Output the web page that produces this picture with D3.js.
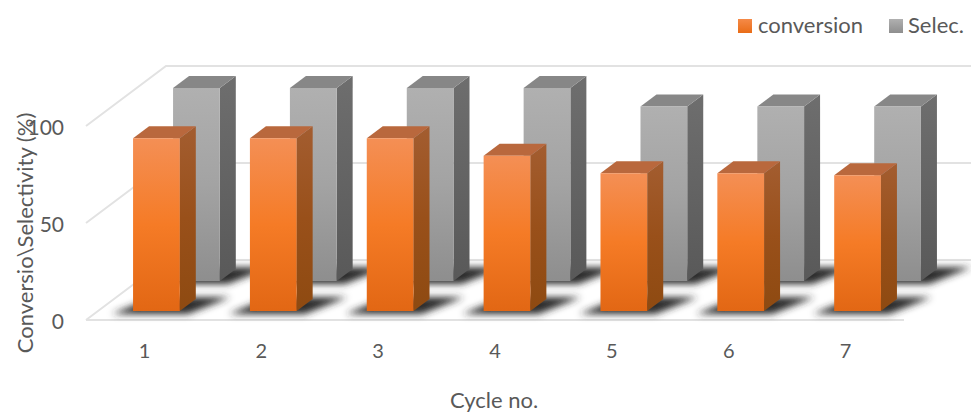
<!DOCTYPE html>
<html>
<head>
<meta charset="utf-8">
<script src="https://cdn.jsdelivr.net/npm/d3@7/dist/d3.min.js"></script>
<style>
html,body{margin:0;padding:0;background:#fff;}
svg{display:block;}
text{font-family:Lato,"Open Sans",sans-serif;fill:#595959;}
</style>
</head>
<body>
<svg id="chart" width="971" height="412"></svg>
<script>
const cycles = ["1","2","3","4","5","6","7"];
const conversion = [89, 89, 89, 80, 71, 71, 70];
const selectivity = [99.5, 99.5, 99.5, 99.5, 90, 90, 90];
const yTicks = [0, 50, 100];

const svg = d3.select("#chart");
const defs = svg.append("defs");

// Oblique projection: depth 0 is the front of the floor, depth 1 the back wall.
const depthDx = d3.scaleLinear().domain([0, 1]).range([0, 80]);
const depthDy = d3.scaleLinear().domain([0, 1]).range([0, -60]);
const x = d3.scaleBand().domain(cycles).range([86, 904]).paddingInner(0.6).paddingOuter(0.3);
const y = d3.scaleLinear().domain([0, 100]).range([320, 126]);
const barDepth = 0.2;

function pt(px, value, depth) {
  return [px + depthDx(depth), y(value) + depthDy(depth)];
}
const poly = pts => pts.map(p => p.join(",")).join(" ");

function gradient(id, stops) {
  const g = defs.append("linearGradient").attr("id", id)
    .attr("x1", 0).attr("y1", 0).attr("x2", 0).attr("y2", 1);
  stops.forEach(([o, c]) => g.append("stop").attr("offset", o).attr("stop-color", c));
}
gradient("orangeFront", [[0, "#f48f55"], [0.5, "#f57b26"], [1, "#e26714"]]);
gradient("orangeSide", [[0, "#a35d30"], [0.5, "#99501a"], [1, "#8e4a11"]]);
gradient("greyFront", [[0, "#b0b0b0"], [0.5, "#a3a3a3"], [1, "#8e8e8e"]]);
gradient("greySide", [[0, "#6e6e6e"], [1, "#595959"]]);
gradient("orangeKey", [[0, "#f58a48"], [1, "#e96c17"]]);
gradient("greyKey", [[0, "#b0b0b0"], [1, "#8e8e8e"]]);

defs.append("filter").attr("id", "soft")
  .attr("x", "-30%").attr("y", "-80%").attr("width", "160%").attr("height", "260%")
  .append("feGaussianBlur").attr("stdDeviation", 3.6);

// Walls and floor
const walls = svg.append("g").attr("fill", "none").attr("stroke", "#e2e2e2").attr("stroke-width", 2);
yTicks.forEach(t => {
  walls.append("polyline").attr("points", poly([pt(86, t, 0), pt(86, t, 1), pt(904, t, 1)]));
});
walls.append("line").attr("x1", 86).attr("y1", y(0)).attr("x2", 904).attr("y2", y(0));

function series(values, depth, frontFill, sideFill, topFill) {
  const shadows = svg.append("g").attr("filter", "url(#soft)");
  const bars = svg.append("g");
  values.forEach((v, i) => {
    const left = x(cycles[i]);
    const right = left + x.bandwidth();
    // Floor shadow spreading from the bar's footprint
    shadows.append("polygon")
      .attr("fill", "#2b2b2b")
      .attr("points", poly([
        pt(left - 17, 0, depth - 0.05),
        pt(right + 12, 0, depth - 0.05),
        pt(right + 32, 0, depth + barDepth + 0.03),
        pt(left + 2, 0, depth + barDepth + 0.03)
      ]));
    const bar = bars.append("g");
    bar.append("polygon").attr("fill", `url(#${sideFill})`)
      .attr("points", poly([pt(right, 0, depth), pt(right, v, depth),
        pt(right, v, depth + barDepth), pt(right, 0, depth + barDepth)]));
    bar.append("polygon").attr("fill", topFill)
      .attr("points", poly([pt(left, v, depth), pt(right, v, depth),
        pt(right, v, depth + barDepth), pt(left, v, depth + barDepth)]));
    bar.append("polygon").attr("fill", `url(#${frontFill})`)
      .attr("points", poly([pt(left, 0, depth), pt(right, 0, depth),
        pt(right, v, depth), pt(left, v, depth)]));
  });
}
series(selectivity, 0.65, "greyFront", "greySide", "#878787");
series(conversion, 0.15, "orangeFront", "orangeSide", "#b9683d");

// Axes
const yAxis = svg.append("g").attr("transform", "translate(64,2)")
  .call(d3.axisLeft(y).tickValues(yTicks).tickSize(0).tickPadding(0));
yAxis.select(".domain").remove();
yAxis.selectAll("text").style("font-size", "21px").attr("fill", "#595959");

const xAxis = svg.append("g").attr("transform", "translate(0,344)")
  .call(d3.axisBottom(x).tickSize(0).tickPadding(0));
xAxis.select(".domain").remove();
xAxis.selectAll("text").style("font-size", "20px").attr("fill", "#595959");

svg.append("text").attr("x", 494).attr("y", 408).attr("text-anchor", "middle")
  .style("font-size", "22px").text("Cycle no.");
svg.append("text").attr("transform", "translate(33,233) rotate(-90)")
  .attr("text-anchor", "middle").style("font-size", "22px").text("Conversio\\Selectivity (%)");

// Legend
const legendNames = ["conversion", "Selec."];
const legendFills = ["orangeKey", "greyKey"];
const legendX = d3.scaleOrdinal().domain(legendNames).range([738, 889]);
const legendTextDx = d3.scaleOrdinal().domain(legendNames).range([20, 19]);
legendNames.forEach((name, i) => {
  svg.append("rect").attr("x", legendX(name)).attr("y", 19).attr("width", 14).attr("height", 14)
    .attr("fill", `url(#${legendFills[i]})`);
  svg.append("text").attr("x", legendX(name) + legendTextDx(name)).attr("y", 33)
    .style("font-size", "22px").text(name);
});
</script>
</body>
</html>
